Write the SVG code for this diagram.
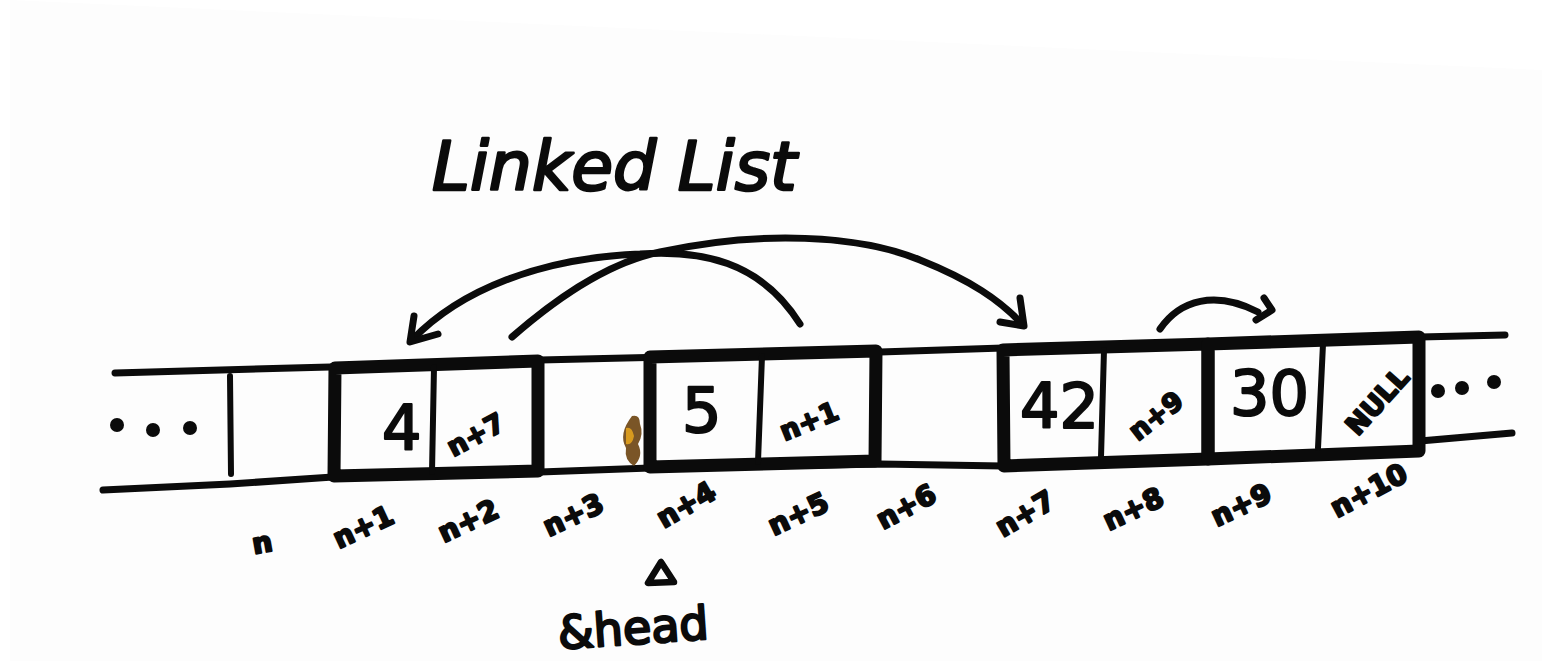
<svg xmlns="http://www.w3.org/2000/svg" width="1542" height="661" viewBox="0 0 1542 661">
  <style>
    .ink { fill: none; stroke: #0b0b0b; stroke-linecap: round; stroke-linejoin: round; }
    .tape { stroke-width: 7; }
    .box { stroke-width: 13; }
    .div { stroke-width: 6; }
    .arc { stroke-width: 7; }
    .hand { font-family: "DejaVu Sans", "Liberation Sans", sans-serif; fill: #0b0b0b; stroke: #0b0b0b; stroke-linejoin: round; stroke-linecap: round; }
    .val { font-size: 62px; stroke-width: 2.2; }
    .ptr { font-size: 27px; stroke-width: 2; font-weight: bold; }
    .addr { font-size: 28px; stroke-width: 2.2; font-weight: bold; }
    .dot { fill: #0b0b0b; }
  </style>

  <rect width="1542" height="661" fill="#ffffff"/>
  <polygon points="10,0 1542,70 1542,661 10,661" fill="#fdfdfd"/>

  <!-- title -->
  <g id="title">
    <text class="hand" x="432" y="190" font-size="68" stroke-width="2.6" font-style="italic">Linked List</text>
  </g>

  <!-- memory strip -->
  <g id="strip">
    <polyline class="ink tape" points="115,373 330,367 540,360 880,352 1003,348 1210,343 1420,337 1505,335"/>
    <polyline class="ink tape" points="103,490 230,484 333,477 540,472 650,468 880,464 1003,466 1208,459 1420,451"/>
    <line class="ink tape" x1="1420" y1="441" x2="1512" y2="433"/>
    <line class="ink div" x1="230" y1="376" x2="231" y2="474"/>
    <circle class="dot" cx="117" cy="425" r="7"/>
    <circle class="dot" cx="153" cy="430" r="7"/>
    <circle class="dot" cx="190" cy="428" r="7"/>
    <circle class="dot" cx="1438" cy="391" r="7"/>
    <circle class="dot" cx="1462" cy="388" r="7"/>
    <circle class="dot" cx="1494" cy="382" r="7"/>
    <!-- stain -->
    <path d="M632,416 q8,-2 8,8 q4,10 -2,20 q6,12 -4,22 q-10,-6 -8,-18 q-8,-14 6,-32z" fill="#6b4210" opacity="0.9"/>
    <path d="M626,428 q6,-2 8,8 q-2,10 -8,8z" fill="#e2a21e" opacity="0.9"/>
  </g>

  <!-- node 1: value 4, next n+7 -->
  <g id="node-4">
    <polygon class="ink box" points="335,368 538,361 538,471 334,476"/>
    <line class="ink div" x1="434" y1="367" x2="432" y2="472"/>
    <text class="hand val" x="382" y="450" font-size="70">4</text>
    <text class="hand ptr" x="446" y="448" transform="rotate(-28 468 438)">n+7</text>
  </g>

  <!-- node 2: value 5, next n+1 -->
  <g id="node-5">
    <polygon class="ink box" points="650,357 876,351 875,461 650,467"/>
    <line class="ink div" x1="762" y1="356" x2="758" y2="462"/>
    <text class="hand val" x="682" y="432">5</text>
    <text class="hand ptr" x="778" y="432" transform="rotate(-22 805 420)">n+1</text>
  </g>

  <!-- node 3: value 42, next n+9 -->
  <g id="node-42">
    <polygon class="ink box" points="1003,350 1208,344 1208,459 1004,466"/>
    <line class="ink div" x1="1104" y1="350" x2="1101" y2="457"/>
    <text class="hand val" x="1020" y="428" font-size="54">42</text>
    <text class="hand ptr" x="1122" y="428" transform="rotate(-38 1150 412)">n+9</text>
  </g>

  <!-- node 4: value 30, next NULL -->
  <g id="node-30">
    <polygon class="ink box" points="1208,344 1419,337 1419,451 1208,459"/>
    <line class="ink div" x1="1323" y1="344" x2="1318" y2="448"/>
    <text class="hand val" x="1230" y="415" font-size="46">30</text>
    <text class="hand ptr" x="1328" y="420" font-size="26" transform="rotate(-48 1362 395)">NULL</text>
  </g>

  <!-- address labels -->
  <g id="addresses">
    <text class="hand addr" x="252" y="552" transform="rotate(-10 265 542)">n</text>
    <text class="hand addr" x="332" y="538" transform="rotate(-25 360 528)">n+1</text>
    <text class="hand addr" x="437" y="532" transform="rotate(-25 465 522)">n+2</text>
    <text class="hand addr" x="542" y="526" transform="rotate(-25 570 516)">n+3</text>
    <text class="hand addr" x="655" y="516" transform="rotate(-30 683 506)">n+4</text>
    <text class="hand addr" x="767" y="525" transform="rotate(-25 795 515)">n+5</text>
    <text class="hand addr" x="875" y="518" transform="rotate(-28 903 508)">n+6</text>
    <text class="hand addr" x="994" y="525" transform="rotate(-30 1022 515)">n+7</text>
    <text class="hand addr" x="1102" y="520" transform="rotate(-25 1130 510)">n+8</text>
    <text class="hand addr" x="1210" y="516" transform="rotate(-25 1238 506)">n+9</text>
    <text class="hand addr" x="1328" y="502" transform="rotate(-28 1365 492)">n+10</text>
  </g>

  <!-- head pointer -->
  <g id="head">
    <polygon class="ink" stroke-width="6.5" points="661,562 648,583 674,582"/>
    <text class="hand" x="558" y="645" font-size="46" stroke-width="2.4" transform="rotate(-4 620 632)">&amp;head</text>
  </g>

  <!-- next-pointer arrows -->
  <g id="connectors">
    <path class="ink arc" d="M800,324 C760,260 700,250 640,254 C540,258 460,290 412,340"/>
    <polyline class="ink arc" points="414,316 410,342 438,334"/>
    <path class="ink arc" d="M512,337 C560,295 610,262 660,252 C760,230 860,235 920,260 C970,280 1000,300 1023,325"/>
    <polyline class="ink arc" points="1020,298 1024,326 1000,322"/>
    <path class="ink arc" d="M1160,329 C1180,300 1215,290 1258,312"/>
    <polyline class="ink arc" points="1264,298 1272,310 1256,320"/>
  </g>
</svg>
